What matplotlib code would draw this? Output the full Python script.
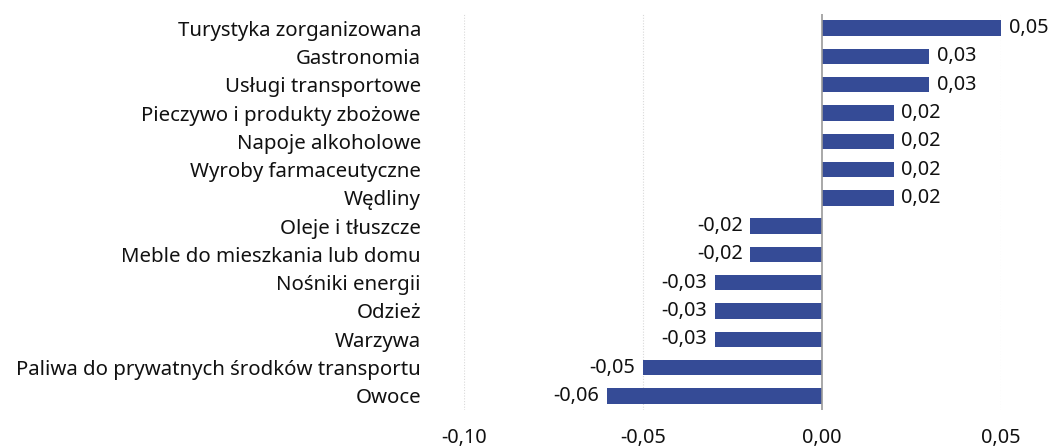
import matplotlib.pyplot as plt

plt.rcParams['font.family'] = ['Noto Sans', 'DejaVu Sans']

kategorie = ['Turystyka zorganizowana', 'Gastronomia', 'Usługi transportowe',
             'Pieczywo i produkty zbożowe', 'Napoje alkoholowe',
             'Wyroby farmaceutyczne', 'Wędliny', 'Oleje i tłuszcze',
             'Meble do mieszkania lub domu', 'Nośniki energii', 'Odzież',
             'Warzywa', 'Paliwa do prywatnych środków transportu', 'Owoce']
wartosci = [0.05, 0.03, 0.03, 0.02, 0.02, 0.02, 0.02,
            -0.02, -0.02, -0.03, -0.03, -0.03, -0.05, -0.06]
ticki = [-0.10, -0.05, 0.00, 0.05]

kolor = '#354b96'
rozmiar = 14.3

fig = plt.figure(figsize=(10.51, 4.46), dpi=100)
ax = fig.add_axes([464 / 1051, 36 / 446, (1001 - 464) / 1051, 396 / 446])

y = list(range(len(kategorie)))
ax.barh(y, wartosci, height=0.55, color=kolor, zorder=3)
ax.set_ylim(len(kategorie) - 0.5, -0.5)
ax.set_xlim(-0.10, 0.05)

ax.set_yticks(y)
ax.set_yticklabels(kategorie, fontsize=14.7, color='#111111')
ax.set_xticks(ticki)
ax.set_xticklabels([f'{t:.2f}'.replace('.', ',') for t in ticki], fontsize=rozmiar, color='#111111')
ax.tick_params(length=0, axis='y', pad=31)
ax.tick_params(length=0, axis='x', pad=13)

for t in ticki:
    if t == 0:
        ax.axvline(t, color='#9a9a9a', lw=1.2, zorder=4)
    else:
        ax.axvline(t, color='#d9d9d9', lw=0.8, ls=(0, (1, 1.5)), zorder=1)

for i, v in enumerate(wartosci):
    txt = f'{v:.2f}'.replace('.', ',')
    if v >= 0:
        ax.text(v + 0.0022, i, txt, va='center', ha='left', fontsize=rozmiar, color='#111111')
    else:
        ax.text(v - 0.0022, i, txt, va='center', ha='right', fontsize=rozmiar, color='#111111')

for s in ax.spines.values():
    s.set_visible(False)

fig.savefig('out.png', dpi=100)
